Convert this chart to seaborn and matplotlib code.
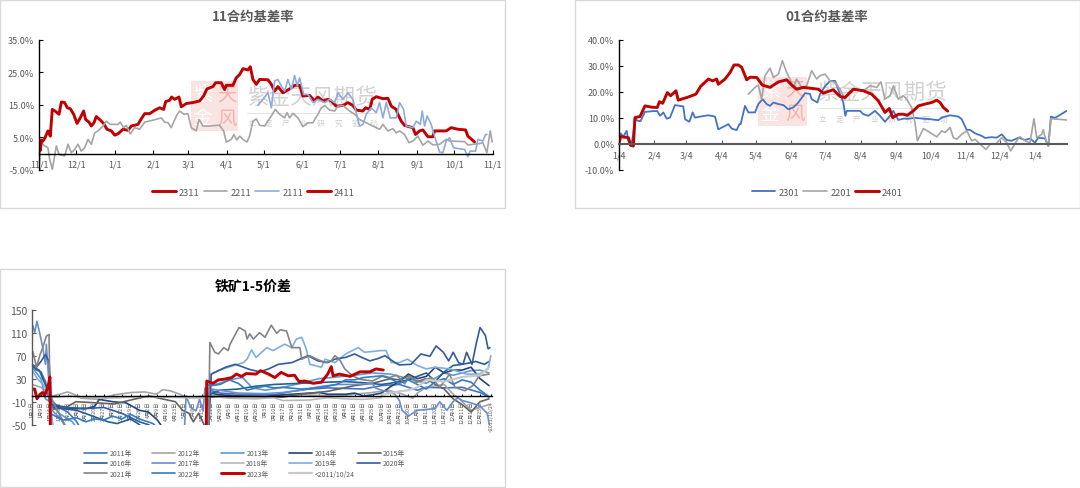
import matplotlib
matplotlib.use('Agg')
import matplotlib.pyplot as plt
from matplotlib.patches import Rectangle
from matplotlib.lines import Line2D
import seaborn as sns

# ---- 11 contract basis rate, x = days since 11/1, y = %
d2411 = [0, 1, 2, 3]
v2411 = [4.4, 1.0, 4.2, 3.9]
d2311 = [3.2, 4.8, 7.2, 9.1, 10.7, 12.9, 16.1, 18, 20.6, 22.8, 25.2, 27.9, 30.6, 33.2, 35.9, 37.5, 40.2, 42.1, 44.2, 46.1,
         48.8, 52, 54.7, 58.2, 60.9, 63.5, 67.6, 71.6, 74.3, 79.6, 82.3, 85, 89, 93, 97, 100.3, 101.9, 105.1, 106.7, 109.1,
         112.6, 114.5, 118.5, 123.9, 129.2, 132.4, 135.1, 139.9, 142.1, 146.6, 149.3, 150.7, 156, 158.7, 161.4, 164.1, 168.1, 170, 172.1, 174.8,
         177.5, 184.2, 186.9, 189.5, 192.2, 196.2, 201.6, 205.6, 209.7, 212.3, 217.7, 221.7, 224.4, 228.4, 232.4, 235.1, 239.1, 244.5, 248.5, 252.5,
         255.2, 260.6, 262.7, 266, 268.1, 271.3, 276.7, 280.7, 283.4, 287.4, 288.7, 291.4, 294.1, 297.6, 300.8, 302.9, 306.2, 308.8, 312.9, 316.9,
         318.2, 322.3, 327.6, 331.6, 337, 343.2, 345, 350.4]
v2311 = [3.9, 4.9, 7.0, 5.4, 13.6, 13.1, 12.1, 15.9, 15.7, 14.1, 13.8, 12.1, 9.3, 11, 13.1, 10.5, 9.7, 8.5, 9.5, 11.4,
         10.5, 9.3, 7.5, 7, 5.7, 6.1, 7.5, 7.2, 8.5, 9, 10.7, 12.3, 12.3, 13.3, 14.1, 13.6, 16, 16.4, 17.4, 16.7,
         17.4, 14.4, 15.4, 15.7, 16.2, 17.7, 19.9, 20.6, 21.8, 21.8, 19.7, 21, 21, 23.3, 24.3, 26.1, 25.7, 26.7, 22.8, 21.3,
         22.8, 22.7, 21.3, 19.2, 20.6, 18.7, 19.9, 21, 21, 17.7, 17.9, 16.2, 17.4, 16.2, 16.7, 16.2, 14.6, 14.8, 15.7, 14.8,
         13.4, 13.1, 14.1, 13.6, 16.7, 17.5, 16.9, 17, 14.6, 13.6, 12.1, 10, 8.7, 8.3, 8, 5.9, 7, 7.3, 5.2, 5.2,
         7, 7, 7, 8, 7.5, 7.3, 5.4, 3.6]
d2111 = [176.1, 180.2, 184.2, 186.9, 189.5, 192.2, 194.9, 197.6, 200.3, 203, 205.6, 207.8, 209.7, 212.9, 216.4, 220.4, 224.4, 229.8, 233.8, 237.8,
         240.5, 244.5, 248.5, 252.5, 255.2, 257.9, 260.6, 263.3, 267.3, 271.3, 274, 276.7, 279.4, 282.6, 287.4, 290.1, 293.3, 295.4, 300.8, 303.5,
         306.7, 308.3, 310.2, 312.3, 315.5, 318.2, 322.3, 324.9, 327.6, 330.3, 333.5, 342.4, 345, 346.9, 351.2, 353.1, 357.1, 359.2, 360.3]
v2111 = [14.8, 16.7, 18.7, 14.1, 22.3, 22.8, 20.8, 19.2, 22.8, 19.7, 24, 20.8, 23.3, 18.2, 18.2, 15.7, 16.7, 15.7, 16.7, 15.7,
         18.7, 16.7, 18.7, 16.7, 12.6, 8.5, 9, 12.1, 14.1, 12.6, 15.7, 11, 15.7, 11, 11, 15.7, 13.6, 8.5, 8, 10,
         9, 13.1, 8.5, 11.6, 9, 5.4, 0.5, 0.3, 3.9, 4.9, 1.8, 1.3, -0.9, 0.8, 0.8, 4.4, 3.9, 5.9, 5.9]
d2211 = [0, 1.6, 4.6, 7.2, 8.6, 10.7, 12.6, 13.9, 16.1, 20.6, 23.3, 26, 28.7, 31.4, 34, 36.7, 39.4, 42.1, 44.8, 47.5,
         51.5, 54.2, 57.4, 63.5, 65.4, 68.1, 70.2, 73.5, 76.9, 81, 85, 91.7, 98.4, 101.1, 103.8, 106.4, 110.5, 113.1, 116.6, 119.8,
         122.5, 126.5, 128.7, 131.9, 137.3, 142.6, 145.3, 148.5, 150.7, 154.7, 156.8, 159.2, 161.4, 164.1, 167.3, 169.4, 172.1, 174.8, 177.5, 181.5,
         186.9, 190.1, 193.6, 197.6, 199.5, 201.6, 204.3, 208.3, 212.3, 216.4, 220.4, 224.4, 227.1, 229.8, 233.8, 237.8, 240.5, 244.5, 249.9, 253.9,
         257.9, 263.3, 268.6, 274, 276.7, 280.7, 284.7, 287.4, 290.1, 294.1, 297.6, 300.8, 304.8, 308.8, 312.9, 316.9, 322.3, 327.6, 330.3, 342.4,
         345, 354.4, 357.1, 360.3, 363, 364.6]
v2211 = [-4.8, 3.4, 2.4, 1.8, -1.7, -4.8, -0.7, 2.4, -0.2, -0.7, 2.9, 0.3, 1.3, 2.9, 0.8, 1.8, 4.4, 2.9, 6.4, 7,
         8.5, 10, 9, 9, 9.7, 8, 8.7, 6.1, 8, 7.5, 9.7, 10.3, 11, 9.7, 9.5, 8, 11.6, 13.1, 12.1, 12.3,
         8, 7, 10.5, 8.5, 8.5, 8.7, 8.7, 7, 3.6, 4.4, 5.9, 4.2, 5.4, 4.4, 3.6, 5.4, 10, 10.7, 8.7, 8.5,
         11.6, 13.6, 12.1, 11, 12.6, 11, 12.4, 11, 8.3, 9.5, 9.5, 12.1, 14.1, 14.8, 13.4, 13.1, 14.6, 14.8, 13.1, 12.1,
         10.5, 9.5, 8.5, 7.5, 9, 7, 7.7, 6.4, 7, 5.9, 3.4, 3.9, 5.4, 2.6, 3.9, 2.7, 2.9, 4.4, 3.9, 3.7,
         2.7, 3.1, 3.4, 0.3, 7, 3.6]
ticks_11 = [0, 30, 61, 92, 120, 151, 181, 212, 242, 273, 304, 334, 365]
labels_11 = ['11/1', '12/1', '1/1', '2/1', '3/1', '4/1', '5/1', '6/1', '7/1', '8/1', '9/1', '10/1', '11/1']

# ---- 01 contract basis rate, x = days since 1/4, y = %
d2301 = [0, 1.5, 3.8, 6.7, 8.2, 10.2, 12, 14, 17, 19, 22.8, 30.1, 33.6, 36, 38.9, 41.8, 44.7, 49.1, 56.4, 57.9,
         61.7, 64.6, 66.7, 71.1, 78.4, 84.2, 87.1, 93, 95.9, 98.8, 103.2, 105.6, 106.7, 110.5, 113.5, 119.3, 122.2, 126, 129.5, 132.5,
         135.4, 139.8, 144.2, 148.5, 152.9, 157.3, 163.2, 167.5, 169, 174, 176.3, 180.7, 185.1, 189.5, 193.9, 196.8, 198.5, 199.8, 211.4, 214.3,
         218.7, 224.6, 228.9, 233.3, 237.7, 240.6, 245, 249.4, 253.8, 259.6, 267, 272.8, 280.1, 283, 290.4, 297.7, 300.6, 305, 307.9, 312.3,
         318.1, 321.1, 326.9, 331.3, 335.7, 340.1, 344.4, 350.3, 356.1, 360.5, 364.9, 367.8, 373.7, 376.6, 378.9, 382.5, 392.7]
v2301 = [0.5, 4, 2.8, 5, 1.2, -0.8, 2.4, 9.5, 8.8, 8.8, 12.3, 12.6, 12.6, 10.8, 12.1, 9.7, 10.1, 14.9, 14.4, 9.5,
         8.5, 12.1, 10.1, 10.5, 11, 10.5, 5.6, 6.9, 7.6, 5.9, 5.3, 7.6, 7.6, 14.6, 12.1, 12.1, 15.3, 17.2, 15.3, 14.6,
         15.9, 15.3, 14.9, 13.3, 14, 15.9, 19.5, 19.2, 17.2, 15.9, 19.1, 22.1, 24.2, 24.2, 19.1, 15.9, 10.8, 12.7, 12.7, 11.4,
         10.8, 12.7, 10.8, 8.5, 10.8, 12.7, 9.2, 9.7, 9.7, 10, 9.7, 9.5, 9.1, 10.1, 11, 10.5, 9.5, 5.4, 5.4, 4.1,
         3.1, 2.3, 2.6, 2.4, 3.7, 1.5, 1.2, 2.4, 1.5, 2.1, 0.5, 2.4, 2.1, -0.8, 10.5, 10, 12.7]
d2201 = [113.5, 119.3, 122.2, 125.1, 128.1, 132.5, 135.4, 139.8, 143.3, 147.1, 150, 152.9, 155.8, 160.2, 164.6, 169, 173.4, 176.3, 180.7, 185.1,
         189.5, 193.9, 198.2, 201.2, 207, 214.3, 220.2, 226, 229.8, 233.3, 237.7, 240.6, 245, 249.4, 252.3, 256.7, 259.6, 261.7, 267, 272.8,
         278.7, 283, 286, 290.4, 293.3, 296.2, 300.6, 305, 309.4, 312.3, 316.7, 321.9, 326, 330.7, 335.7, 340.1, 343.6, 348.8, 351.8, 356.1,
         360.5, 364, 366.4, 370.8, 372.2, 374.6, 376.6, 378.9, 392.7]
v2201 = [19.1, 21.7, 22.6, 17.2, 26.2, 29.1, 25.5, 26.8, 31.9, 27.4, 24.9, 21.7, 24.9, 21.7, 22.3, 28.1, 24.9, 26.2, 26.8, 24.2,
         23.6, 21, 17.2, 19.7, 21, 20.4, 22.3, 21.7, 23.8, 17.2, 18.5, 22.3, 17.2, 18.5, 17.2, 14, 8.2, 1.2, 5.9, 4.4,
         2.7, 5, 4.4, 6.3, 2.4, 1.8, 3.7, 5, 1.2, 1.8, -0.1, -2.1, 0.1, 0.1, 2.4, 0.5, -2.7, 1.2, 2.8, 1.2,
         0.5, 9.7, 2.4, 3.7, 5.4, 1.2, -0.8, 9.7, 9.2]
d2401 = [0, 1.5, 8.2, 10.2, 12.6, 14, 18.4, 22.8, 28.7, 33.6, 35.4, 38.3, 42.4, 45.3, 50, 52, 59.4, 67.5, 71.6, 78.4,
         82.2, 85.7, 87.1, 93, 97.4, 100.9, 104.7, 107.6, 112, 114.9, 120.8, 125.7, 132.5, 139.8, 147.1, 151.5, 155.8, 161.7, 174.9, 179.2,
         188, 193.9, 198.2, 205.6, 214.3, 221.6, 227.5, 233.3, 237.1, 240.1, 245, 249.4, 252.9, 258.2, 262.6, 268.4, 274.3, 278.7, 281.6, 284.5, 288.3]
v2401 = [0.3, 2.8, 2.4, -0.5, -0.8, 10.1, 10.5, 14.6, 14.1, 14, 16.2, 15.6, 19.7, 18.5, 20.4, 16.8, 17.8, 19.1, 22.1, 24.9,
         24.2, 24.9, 22.9, 24.9, 27.4, 30.3, 30.3, 29.4, 24.6, 25.6, 25.5, 22.6, 21.7, 23.8, 24.6, 22.6, 21, 21.7, 21, 19.5,
         20.8, 18.2, 17.8, 21, 20.4, 19.1, 16.5, 12.1, 13.6, 10.1, 11.4, 11.4, 11, 12.7, 14.6, 15.3, 15.9, 16.8, 15.9, 14, 12.6]
ticks_01 = [0, 31, 59, 90, 120, 151, 181, 212, 243, 273, 304, 334, 365]
labels_01 = ['1/4', '2/4', '3/4', '4/4', '5/4', '6/4', '7/4', '8/4', '9/4', '10/4', '11/4', '12/4', '1/4']

# ---- iron ore 1-5 spread, x = weekly category position
w2011 = [0, 1, 1.5, 2, 3, 4, 5, 5.5, 19.7, 19.8, 21, 23, 25, 27, 29, 31, 33, 35, 37, 39, 41, 43, 44, 46, 48, 50, 51]
y2011 = [48, 42, 25, -5, -20, -28, -45, -60, -60, 10, 5, 3, 2, 2, 8, 12, 14, 13, 12, 18, 20, 10, 15, 14, 15, 6, -2]
w2012 = [0, 1, 2.3, 3.1, 4, 4.8, 5.5, 7.6, 9.2, 11.1, 12.6, 13.9, 14.6, 15.4, 16.5, 17.2, 19.7, 22, 26, 30, 34, 36, 38, 39.7, 41, 42.5, 43, 44, 46, 47, 47.7, 49, 51]
y2012 = [20, 15, 0, 3, 7, 2, -4, -6, 2, 6, 7, 3, 11, 9, 3, -3, 0, 1, 0, 2, 0, 3, 6, 10, 5, -4, 5, 15, 20, 3, -5, -25, -15]
w2013 = [0, 0.5, 1, 1.5, 2, 3, 4.5, 5.2, 19.7, 19.8, 22.4, 23.5, 24.6, 26, 28, 30, 32, 34, 36, 38, 40, 42, 44, 46, 47, 48, 49, 50, 51]
y2013 = [50, 40, 30, -5, -10, -30, -45, -60, -60, 17, 29, 32, 14, 10, 15, 22, 30, 33, 36, 40, 38, 30, 22, 40, 36, 40, 44, 45, 40]
w2014 = [2.2, 4, 6, 7, 7.5, 9, 10.5, 12, 13, 14, 14.8, 19.7, 19.8, 21, 23, 26, 28, 30, 32, 33, 35, 36, 37, 38, 39, 40, 41, 42, 43, 44, 45, 46, 47, 48, 49, 50, 51]
y2014 = [-16, -22, -22, -18, -6, -10, -12, -25, -28, -42, -60, -60, 5, 2, 0, -1, 2, 4, 6, 3, 3, 5, 0, 2, 5, 16, 25, 38, 30, 34, 50, 40, 45, 45, 50, 30, 18]
w2015 = [2.3, 3.8, 4.9, 7.2, 9.2, 11.3, 13.1, 14.5, 16, 16.8, 17.5, 18, 18.6, 19.2, 19.7, 19.8, 25, 28, 30, 33, 34.5, 36, 38, 40, 41, 42, 43, 44, 45, 46, 47, 48, 49, 50, 51]
y2015 = [-23, -20, -10, -12, -14, -6, 0, -5, -10, -25, -30, -45, -30, -50, -60, -2, -1, -2, 3, 8, 13, 18, 22, 30, 28, 35, 25, 30, 20, 12, -5, -15, -28, -10, -5]
w2016 = [0, 0.4, 0.8, 1.2, 1.6, 2, 2.3, 5, 8.5, 9.5, 11, 12, 12.5, 19.7, 19.8, 21, 23, 25, 27, 30, 33, 35, 37, 39, 40, 42, 44, 45, 46, 47, 48, 49, 49.5, 50.5, 51]
y2016 = [52, 48, 45, 30, 15, -12, -20, -25, -45, -48, -40, -50, -60, -60, 3, 10, 12, 17, 20, 22, 24, 25, 23, 20, 22, 28, 40, 25, 42, 53, 55, 58, 60, 55, 60]
w2017 = [0.1, 0.3, 0.55, 0.85, 1.2, 1.5, 1.6, 2, 2.3, 3.1, 3.6, 4, 17, 17.2, 17.7, 18.3, 18.7, 19.1, 19.3, 20, 23, 26, 28, 30, 32, 34, 36, 38, 38.3, 39, 39.5, 40.5, 41, 41.3, 42, 43, 45, 45.5, 46.3, 47, 47.5, 48, 49, 50, 50.8, 51.1]
y2017 = [122, 110, 130, 110, 84, 55, 90, -3, -26, -38, -50, -60, -60, 0, -20, -26, -6, -26, 14, 12, 5, 4, 6, 10, 16, 20, 20, 22, 14, 10, 8, 3, -8, -25, -35, -25, -22, -10, -25, -10, -3, -8, -12, -18, -30, -55]
w2018 = [2.2, 4, 6, 8, 10, 12, 19.7, 19.8, 22, 25, 27, 28, 31, 33, 35, 37, 39]
y2018 = [-3, 0, -2, -4, -3, -1, -4, 0, -4, -5, -3, -8, -7, -3, -5, -6, -3]
w2019 = [0, 0.6, 1.2, 1.8, 2.1, 2.4, 19.7, 20, 20.8, 21.9, 23.6, 24, 24.5, 25, 26.2, 26.9, 28.2, 29, 29.5, 30.1, 30.6, 31, 32.3, 32.7, 33.8, 35, 36.4, 37.1, 37.8, 39, 39.5, 40.1, 41, 41.9, 43, 44, 45, 46.6, 48.5, 49.9, 50.9, 51.2]
y2019 = [45, 30, 20, 8, -20, -60, -60, 38, 44, 50, 58, 64, 80, 67, 84, 79, 90, 84, 99, 102, 82, 55, 50, 64, 58, 73, 84, 76, 77, 79, 79, 58, 58, 64, 53, 47, 50, 47, 38, 38, 47, 70]
w2020 = [0, 0.5, 1, 1.5, 1.9, 2.2, 4, 6, 8, 10, 12, 13, 14, 19.7, 20, 20.8, 21.6, 22.7, 23.6, 24.3, 25.4, 26.4, 27.5, 29, 29.9, 30.8, 31.9, 33, 33.8, 35, 36, 36.8, 37.7, 38.6, 39.4, 40.5, 41, 42.3, 43.4, 44.4, 45.1, 45.9, 46.5, 47, 47.6, 48.1, 48.5, 49.1, 49.6, 50, 50.6, 50.9, 51.1]
y2020 = [55, 50, 60, 72, 60, -15, -20, -22, -20, -30, -45, -50, -60, -60, 38, 44, 50, 55, 50, 46, 42, 47, 55, 58, 64, 70, 61, 58, 64, 67, 73, 67, 61, 65, 70, 58, 54, 55, 73, 69, 87, 76, 61, 76, 58, 55, 76, 55, 93, 119, 105, 82, 84]
w2021 = [0.1, 0.5, 0.9, 1.2, 1.6, 1.9, 2, 2.5, 4, 19.7, 19.85, 20.4, 20.8, 21.4, 21.9, 22.1, 23.1, 23.8, 24, 24.3, 24.7, 25.4, 26, 26.7, 27.3, 27.7, 28.4, 29, 29.9, 30.1, 31, 31.8, 32.7, 33.4, 33.8, 34.3, 34.9, 35.8, 36.6, 38, 39.2, 39.9, 40.7, 41.6, 42.1, 42.9, 43.6, 44.6, 45.5, 46.6, 47.2, 48.3, 49.2, 49.9, 51]
y2021 = [77, 50, 72, 84, 104, 107, 3, -15, -60, -60, 93, 76, 73, 84, 79, 90, 119, 113, 99, 108, 99, 110, 102, 123, 109, 115, 113, 84, 84, 64, 70, 64, 58, 61, 70, 64, 47, 35, 29, 26, 35, 32, 36, 21, 35, 24, 26, 32, 15, 38, 15, 9, 18, 35, 38]
w2022 = [2.2, 3.5, 5, 6, 7, 8, 9, 10, 11, 12, 13.5, 14.3, 19.4, 19.5, 20, 21, 22, 23, 24, 25, 26, 27, 28, 30, 32, 34, 35, 36, 37, 39, 40, 41, 42, 43, 44, 45, 46, 47, 48, 49, 50, 50.9]
y2022 = [-32, -42, -38, -45, -40, -42, -35, -40, -32, -40, -48, -60, -60, 20, 18, 20, 28, 22, 10, 14, 17, 14, 15, 12, 14, 20, 28, 28, 32, 35, 30, 22, 28, 20, 12, 25, 30, 20, 28, 24, 10, 0]
w2023 = [0, 0.3, 0.55, 0.9, 1.2, 1.4, 1.8, 2, 2.05, 19.45, 19.5, 20.2, 20.8, 21.4, 22.3, 22.8, 23.4, 23.9, 25, 25.5, 26.4, 27.1, 27.8, 28.6, 29.3, 29.8, 30.4, 31.4, 32.3, 33, 33.4, 33.6, 34.3, 35.5, 36.6, 37.7, 38.4, 39.2]
y2023 = [12, 12, -5, 3, 6, 0, 17, 33, -60, -60, 26, 22, 28, 29, 32, 38, 34, 39, 38, 44, 38, 32, 41, 35, 36, 25, 26, 22, 24, 38, 51, 35, 38, 34, 42, 42, 47, 45]
w_old = [39, 40, 41, 42, 43, 44, 46, 48, 50, 51]
y_old = [2, 5, 8, 10, 15, 28, 25, 33, 36, 50]
week_labels = ['1月2日', '1月9日', '1月16日', '1月23日', '1月30日', '2月6日', '2月13日', '2月20日', '2月27日', '3月5日', '3月12日', '3月19日', '3月26日',
               '4月2日', '4月9日', '4月16日', '4月23日', '5月2日', '5月8日', '5月15日', '5月22日', '5月29日', '6月5日', '6月12日', '6月19日', '6月26日',
               '7月3日', '7月10日', '7月17日', '7月24日', '7月31日', '8月7日', '8月14日', '8月21日', '8月28日', '9月4日', '9月11日', '9月18日', '9月25日',
               '10月9日', '10月16日', '10月23日', '10月30日', '11月6日', '11月13日', '11月20日', '11月27日', '12月4日', '12月11日', '12月18日', '12月25日', '<2011/10/24']

W, H = 1080, 489
RED = '#C00000'
TXT = '#595959'

sns.set_style('white')
plt.rcParams['font.family'] = ['Noto Sans CJK SC', 'DejaVu Sans']
plt.rcParams['axes.unicode_minus'] = False

fig = plt.figure(figsize=(W / 100, H / 100), dpi=100)


def px_axes(left, top, right, bottom):
    a = fig.add_axes([left / W, 1 - bottom / H, (right - left) / W, (bottom - top) / H])
    a.patch.set_alpha(0)
    return a


def frame(left, top, right, bottom):
    fig.add_artist(Rectangle((left / W, 1 - bottom / H), (right - left) / W, (bottom - top) / H, transform=fig.transFigure,
                             fc='white', ec='#D9D9D9', lw=1, zorder=-5))


def watermark(ax, sx0, sy0, sx1, sy1, tx0, tx1, ty, sub_y):
    # pale seal and company name behind the lines
    ft = fig.transFigure
    ax.add_patch(Rectangle((sx0 / W, 1 - sy1 / H), (sx1 - sx0) / W, (sy1 - sy0) / H, transform=ft, fc='#F9E4E1', ec='none', zorder=0, clip_on=False))
    cx, cy = (sx0 + sx1) / 2, (sy0 + sy1) / 2
    for ch, dx, dy, col in [('紫', -12, -12, '#FFFFFF'), ('天', 12, -12, '#F0B4AE'), ('金', -12, 12, '#FFFFFF'), ('风', 12, 12, '#F0B4AE')]:
        ax.text((cx + dx) / W, 1 - (cy + dy) / H, ch, transform=ft, color=col, fontsize=14, ha='center', va='center', zorder=0.5)
    ax.text((tx0 + tx1) / 2 / W, 1 - ty / H, '紫金天风期货', transform=ft, color='#D2D2D2', fontsize=15.6, ha='center', va='center', zorder=0.5)
    ax.add_line(Line2D([tx0 / W, tx1 / W], [1 - (ty + 16) / H] * 2, transform=ft, color='#E4E4E4', lw=0.7, zorder=0.5))
    for i, ch in enumerate('立足产业研究驱动'):
        ax.text((tx0 + 4 + i * (tx1 - tx0 - 8) / 7) / W, 1 - sub_y / H, ch, transform=ft, color='#CFCFCF', fontsize=5.5, ha='center', va='center', zorder=0.5)


def style_axes(ax, xticks, xlabels, ylim, yticks, ylabels, xlim, pad, bottom_col='black', bottom_lw=1.0, left_col='black'):
    ax.set_xlim(*xlim)
    ax.set_ylim(*ylim)
    ax.set_yticks(yticks)
    ax.set_yticklabels(ylabels)
    ax.set_xticks(xticks)
    ax.set_xticklabels(xlabels)
    ax.set_xlabel('')
    ax.set_ylabel('')
    for s in ['top', 'right']:
        ax.spines[s].set_visible(False)
    ax.spines['left'].set_color(left_col)
    ax.spines['left'].set_linewidth(1.0)
    ax.spines['bottom'].set_position(('data', 0))
    ax.spines['bottom'].set_color(bottom_col)
    ax.spines['bottom'].set_linewidth(bottom_lw)
    ax.tick_params(axis='y', direction='in', length=3, width=0.8, color=left_col, labelsize=6.5, labelcolor=TXT, pad=3.5, left=True)
    ax.tick_params(axis='x', direction='in', length=3, width=0.8, color=bottom_col, labelsize=6.5, labelcolor=TXT, pad=pad, bottom=True)


def row_legend(handles, labels, x, y, fontsize, handlelength, columnspacing):
    fig.legend(handles, labels, loc='center left', bbox_to_anchor=(x / W, 1 - y / H), ncol=len(labels), frameon=False,
               fontsize=fontsize, labelcolor=TXT, handlelength=handlelength, handletextpad=0.35, columnspacing=columnspacing,
               borderpad=0, borderaxespad=0)


frame(0, 0.5, 505, 209)
frame(574.5, 0.5, 1079.5, 209)
frame(0, 270, 505, 488)

# ---- panel 1
ax1 = px_axes(39, 40.7, 492.7, 171)
watermark(ax1, 191, 82, 238, 132, 247, 377, 98, 124)
sns.lineplot(x=d2311, y=v2311, ax=ax1, color=RED, lw=2.1, label='2311', estimator=None, sort=False)
sns.lineplot(x=d2211, y=v2211, ax=ax1, color='#A5A5A5', lw=1.2, label='2211', estimator=None, sort=False)
sns.lineplot(x=d2111, y=v2111, ax=ax1, color='#8FAADC', lw=1.2, label='2111', estimator=None, sort=False)
sns.lineplot(x=d2411, y=v2411, ax=ax1, color=RED, lw=2.1, label='2411', estimator=None, sort=False)
style_axes(ax1, ticks_11, labels_11, (-5, 35), [-5, 5, 15, 25, 35], ['-5.0%', '5.0%', '15.0%', '25.0%', '35.0%'], (0, 365), 4.5)
h, l = ax1.get_legend_handles_labels()
ax1.get_legend().remove()
row_legend(h, l, 152, 193, 6.7, 2.55, 0.42)
fig.text(253 / W, 1 - 17 / H, '11合约基差率', color=TXT, fontsize=9.6, ha='center', va='center', fontweight='bold')

# ---- panel 2
ax2 = px_axes(619, 40.7, 1066.7, 171)
watermark(ax2, 758, 78, 807, 127, 818, 947, 93, 120)
sns.lineplot(x=d2301, y=v2301, ax=ax2, color='#4472C4', lw=1.3, label='2301', estimator=None, sort=False)
sns.lineplot(x=d2201, y=v2201, ax=ax2, color='#A5A5A5', lw=1.2, label='2201', estimator=None, sort=False)
sns.lineplot(x=d2401, y=v2401, ax=ax2, color=RED, lw=2.1, label='2401', estimator=None, sort=False)
style_axes(ax2, ticks_01, labels_01, (-10, 40), [-10, 0, 10, 20, 30, 40], ['-10.0%', '0.0%', '10.0%', '20.0%', '30.0%', '40.0%'], (0, 392.7), 4.5,
           bottom_col='#595959', bottom_lw=1.5)
h, l = ax2.get_legend_handles_labels()
ax2.get_legend().remove()
row_legend(h, l, 751.7, 193, 6.7, 2.55, 0.42)
fig.text(826.7 / W, 1 - 17 / H, '01合约基差率', color=TXT, fontsize=9.6, ha='center', va='center', fontweight='bold')

# ---- panel 3
ax3 = px_axes(32, 310.7, 491.7, 425.7)
series = [
    ('2011年', w2011, y2011, '#4472C4', 1.2), ('2012年', w2012, y2012, '#A5A5A5', 1.2), ('2013年', w2013, y2013, '#5B9BD5', 1.2),
    ('2014年', w2014, y2014, '#264478', 1.2), ('2015年', w2015, y2015, '#636363', 1.2), ('2016年', w2016, y2016, '#255E91', 1.2),
    ('2017年', w2017, y2017, '#698ED0', 1.2), ('2018年', w2018, y2018, '#B7B7B7', 1.2), ('2019年', w2019, y2019, '#7CAFDD', 1.2),
    ('2020年', w2020, y2020, '#335AA1', 1.2), ('2021年', w2021, y2021, '#848484', 1.2), ('2022年', w2022, y2022, '#327DC2', 1.2),
    ('2023年', w2023, y2023, RED, 2.1), ('<2011/10/24', w_old, y_old, '#C9C9C9', 1.6),
]
for name, wk, val, col, lw in series:
    sns.lineplot(x=wk, y=val, ax=ax3, color=col, lw=lw, label=name, estimator=None, sort=False)
tick_pos = list(range(51)) + [51.2]
style_axes(ax3, tick_pos, week_labels, (-50, 150), [-50, -10, 30, 70, 110, 150], ['-50', '-10', '30', '70', '110', '150'], (0, 51.3), 3.4,
           left_col='#595959')
ax3.tick_params(axis='x', labelsize=3.8, labelrotation=90, length=1.5, width=0.8)
ax3.tick_params(axis='y', labelsize=7.5)
h, l = ax3.get_legend_handles_labels()
ax3.get_legend().remove()
for i, row_y in enumerate([454, 464.5, 474.7]):
    row_legend(h[i * 5:i * 5 + 5], l[i * 5:i * 5 + 5], 83.7, row_y, 4.9, 3.4, 3.05)
fig.text(253 / W, 1 - 287 / H, '铁矿1-5价差', color='black', fontsize=10, ha='center', va='center', fontweight='bold')

fig.savefig('out.png', dpi=100)
